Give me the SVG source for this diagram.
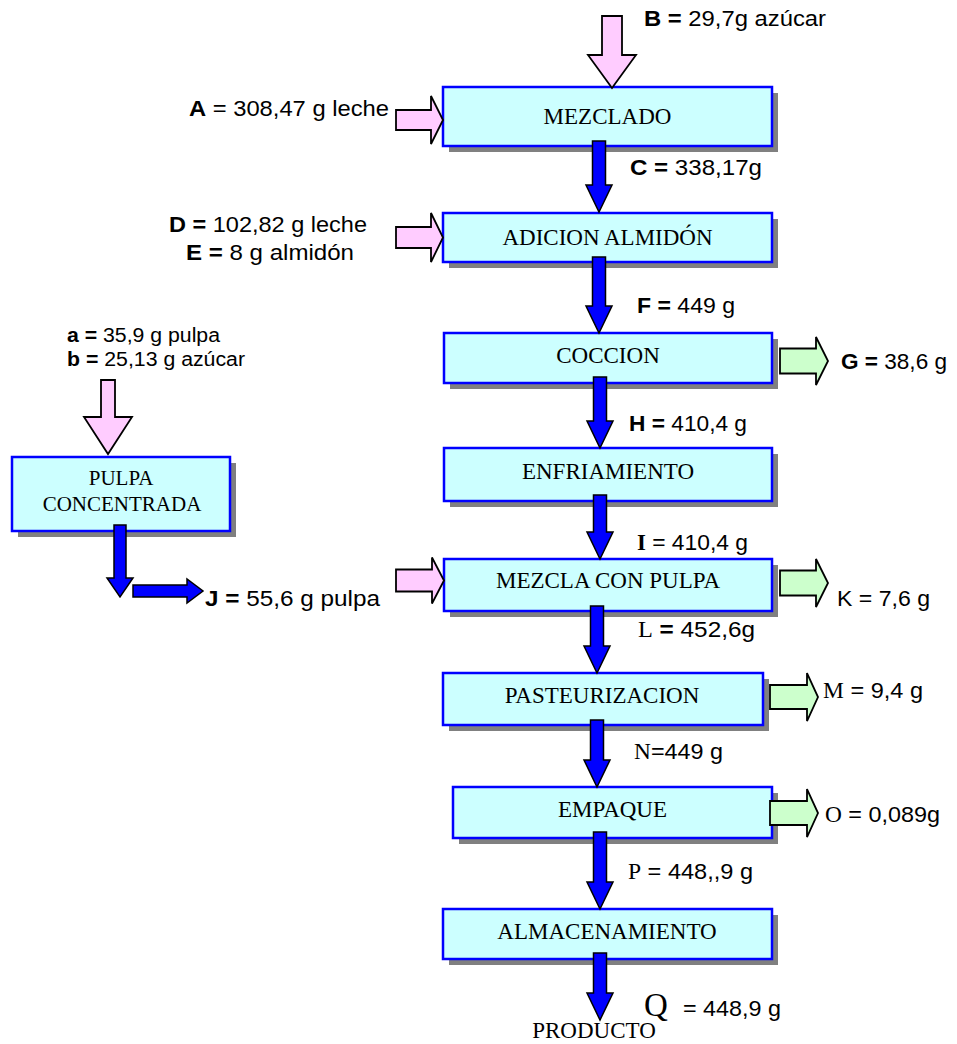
<svg xmlns="http://www.w3.org/2000/svg" width="957" height="1044" viewBox="0 0 957 1044">
<style>
.box{fill:#CCFFFF;stroke:#0000FF;stroke-width:2.5}
.sh{fill:#808080}
.bt{font-family:"Liberation Serif","Times New Roman",serif;font-size:23px;fill:#000;text-anchor:middle}
.lb{font-family:"Liberation Sans",Arial,sans-serif;font-size:22.5px;fill:#000}
.sm{font-size:19.5px}
.b{font-weight:bold}
.tr{font-family:"Liberation Serif","Times New Roman",serif}
.blue{fill:#0000FF;stroke:#000;stroke-width:1.5;stroke-linejoin:miter}
.pink{fill:#FFCCFF;stroke:#000;stroke-width:1.8}
.green{fill:#CCFFCC;stroke:#000;stroke-width:1.8}
</style>
<rect width="957" height="1044" fill="#fff"/>
<g id="mezclado"><rect class="sh" x="449" y="93" width="329" height="59"/><rect class="box" x="443" y="87" width="329" height="59"/><text class="bt" x="607.5" y="123.5">MEZCLADO</text></g>
<g id="adicion"><rect class="sh" x="449" y="219" width="329" height="49"/><rect class="box" x="443" y="213" width="329" height="49"/><text class="bt" x="607.5" y="245">ADICION ALMIDÓN</text></g>
<g id="coccion"><rect class="sh" x="450" y="339" width="328" height="50"/><rect class="box" x="444" y="333" width="328" height="50"/><text class="bt" x="608" y="363">COCCION</text></g>
<g id="enfriamiento"><rect class="sh" x="450" y="454" width="328" height="53"/><rect class="box" x="444" y="448" width="328" height="53"/><text class="bt" x="608" y="479">ENFRIAMIENTO</text></g>
<g id="mezcla-pulpa"><rect class="sh" x="450" y="565" width="328" height="52"/><rect class="box" x="444" y="559" width="328" height="52"/><text class="bt" x="608" y="588">MEZCLA CON PULPA</text></g>
<g id="pasteurizacion"><rect class="sh" x="449" y="679" width="320" height="52"/><rect class="box" x="443" y="673" width="320" height="52"/><text class="bt" x="602" y="703">PASTEURIZACION</text></g>
<g id="empaque"><rect class="sh" x="459" y="793" width="319" height="51"/><rect class="box" x="453" y="787" width="319" height="51"/><text class="bt" x="612.5" y="817">EMPAQUE</text></g>
<g id="almacenamiento"><rect class="sh" x="449" y="915" width="329" height="50"/><rect class="box" x="443" y="909" width="329" height="50"/><text class="bt" x="607" y="939">ALMACENAMIENTO</text></g>
<g id="pulpa"><rect class="sh" x="18" y="463" width="218" height="74"/><rect class="box" x="12" y="457" width="218" height="74"/><text class="bt" x="121" y="485" style="font-size:21px">PULPA</text><text class="bt" x="122" y="511" style="font-size:21px">CONCENTRADA</text></g>
<g id="producto"><text class="bt" x="594" y="1038">PRODUCTO</text></g>
<g id="connectors">
<path class="blue" d="M592.5,141 L605.5,141 L605.5,185 L612,185 L599,212 L586,185 L592.5,185 Z"/>
<path class="blue" d="M592.5,257 L605.5,257 L605.5,306 L612,306 L599,333 L586,306 L592.5,306 Z"/>
<path class="blue" d="M593.5,377 L606.5,377 L606.5,421 L613,421 L600,448 L587,421 L593.5,421 Z"/>
<path class="blue" d="M593.5,495 L606.5,495 L606.5,532 L613,532 L600,559 L587,532 L593.5,532 Z"/>
<path class="blue" d="M590.5,606 L603.5,606 L603.5,646 L610,646 L597,673 L584,646 L590.5,646 Z"/>
<path class="blue" d="M590.5,720 L603.5,720 L603.5,760 L610,760 L597,787 L584,760 L590.5,760 Z"/>
<path class="blue" d="M593.5,832 L606.5,832 L606.5,882 L613,882 L600,909 L587,882 L593.5,882 Z"/>
<path class="blue" d="M593.5,953 L606.5,953 L606.5,993 L613,993 L600,1020 L587,993 L593.5,993 Z"/>
<path class="blue" d="M114,525 L126,525 L126,578 L133,578 L120,597 L107,578 L114,578 Z"/>
<path class="blue" d="M133,585 L187,585 L187,579 L203,591 L187,603 L187,597 L133,597 Z"/>
<path class="pink" d="M602,16 L622,16 L622,55 L636,55 L612,88 L588,55 L602,55 Z"/>
<path class="pink" d="M101,380 L115,380 L115,417 L132,417 L108,454 L84,417 L101,417 Z"/>
<path class="pink" d="M396,110 L431,110 L431,96 L443,120 L431,144 L431,130 L396,130 Z"/>
<path class="pink" d="M396,227 L431,227 L431,213 L443,237.5 L431,262 L431,248 L396,248 Z"/>
<path class="pink" d="M396,569.5 L432,569.5 L432,557.5 L444,580.5 L432,603.5 L432,591.5 L396,591.5 Z"/>
<path class="green" d="M780,348.5 L816,348.5 L816,337 L828,361 L816,385 L816,373.5 L780,373.5 Z"/>
<path class="green" d="M780,570.5 L816,570.5 L816,559 L828,583 L816,607 L816,595.5 L780,595.5 Z"/>
<path class="green" d="M770,685 L807,685 L807,673 L818,697 L807,721 L807,709 L770,709 Z"/>
<path class="green" d="M770,801 L807,801 L807,789 L818,813 L807,837 L807,825 L770,825 Z"/>
</g>
<g id="labels">
<text class="lb" x="644" y="26" textLength="182" lengthAdjust="spacingAndGlyphs"><tspan class="b">B =</tspan> 29,7g azúcar</text>
<text class="lb" x="189" y="116" textLength="200" lengthAdjust="spacingAndGlyphs"><tspan class="b">A</tspan> = 308,47 g leche</text>
<text class="lb" x="630" y="175" textLength="132" lengthAdjust="spacingAndGlyphs"><tspan class="b">C =</tspan> 338,17g</text>
<text class="lb" x="169" y="232" textLength="198" lengthAdjust="spacingAndGlyphs"><tspan class="b">D =</tspan> 102,82 g leche</text>
<text class="lb" x="186" y="260" textLength="168" lengthAdjust="spacingAndGlyphs"><tspan class="b">E =</tspan> 8 g almidón</text>
<text class="lb" x="637" y="313" textLength="98" lengthAdjust="spacingAndGlyphs"><tspan class="b">F =</tspan> 449 g</text>
<text class="lb" x="841" y="369" textLength="106" lengthAdjust="spacingAndGlyphs"><tspan class="b">G =</tspan> 38,6 g</text>
<text class="lb" x="629" y="431" textLength="118" lengthAdjust="spacingAndGlyphs"><tspan class="b">H =</tspan> 410,4 g</text>
<text class="lb" x="637" y="550" textLength="111" lengthAdjust="spacingAndGlyphs"><tspan class="tr b">I</tspan> = 410,4 g</text>
<text class="lb" x="837" y="606" textLength="93" lengthAdjust="spacingAndGlyphs">K = 7,6 g</text>
<text class="lb" x="638" y="637" textLength="117" lengthAdjust="spacingAndGlyphs"><tspan class="tr">L</tspan> <tspan class="b">=</tspan> 452,6g</text>
<text class="lb" x="823" y="698" textLength="100" lengthAdjust="spacingAndGlyphs"><tspan class="tr">M</tspan>  = 9,4 g</text>
<text class="lb" x="634" y="759" textLength="89" lengthAdjust="spacingAndGlyphs"><tspan class="tr">N</tspan>=449 g</text>
<text class="lb" x="825" y="822" textLength="115" lengthAdjust="spacingAndGlyphs"><tspan class="tr">O</tspan> = 0,089g</text>
<text class="lb" x="628" y="879" textLength="125" lengthAdjust="spacingAndGlyphs"><tspan class="tr">P</tspan> = 448,,9 g</text>
<text class="lb" x="644" y="1016"><tspan class="tr" style="font-size:33px">Q</tspan></text>
<text class="lb" x="683" y="1016" textLength="98" lengthAdjust="spacingAndGlyphs">= 448,9 g</text>
<text class="lb" x="205" y="606" textLength="175" lengthAdjust="spacingAndGlyphs"><tspan class="b">J =</tspan> 55,6 g pulpa</text>
<text class="lb sm" x="67" y="342" textLength="153" lengthAdjust="spacingAndGlyphs"><tspan class="b">a =</tspan> 35,9 g pulpa</text>
<text class="lb sm" x="67" y="366" textLength="178" lengthAdjust="spacingAndGlyphs"><tspan class="b">b =</tspan> 25,13 g azúcar</text>
</g>
</svg>
